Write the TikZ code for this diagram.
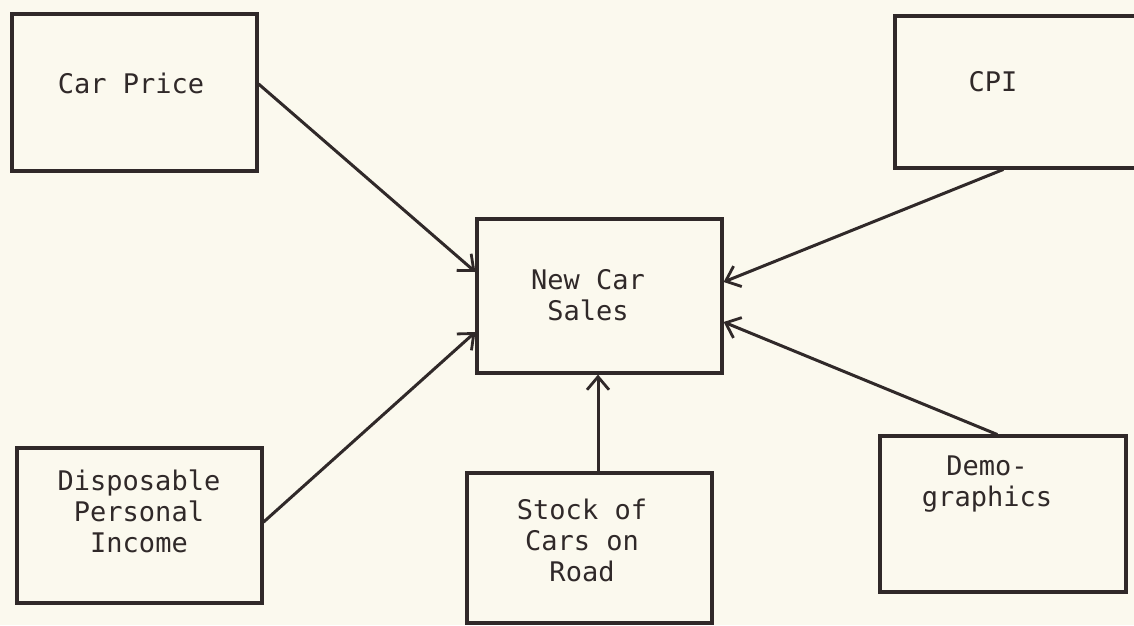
\documentclass[tikz,border=0pt]{standalone}
\usepackage{fontspec}
\setmonofont{DejaVu Sans Mono}
\usetikzlibrary{arrows.meta}
\definecolor{paper}{RGB}{251,249,238}
\definecolor{ink}{RGB}{48,41,41}

\begin{document}
\begin{tikzpicture}[x=1pt,y=-1pt,
  box/.style={draw=ink, line width=3.2pt, rectangle, inner sep=0pt},
  lbl/.style={font=\ttfamily\fontsize{27}{31}\selectfont, text=ink, align=center},
  conn/.style={draw=ink, line width=3pt, line cap=round,
    -{Straight Barb[length=13pt,width=22pt,line width=2.8pt]}}
]
% page
\fill[paper] (0,0) rectangle (1134,625);
\useasboundingbox (0,0) rectangle (1134,625);

% boxes
\node[box, minimum width=245pt, minimum height=157pt] (cp)  at (134.5,92.5) {};
\node[box, minimum width=255pt, minimum height=152pt] (cpi) at (1022.5,92) {};
\node[box, minimum width=245pt, minimum height=154pt] (ncs) at (599.5,296) {};
\node[box, minimum width=245pt, minimum height=155pt] (dpi) at (139.5,525.5) {};
\node[box, minimum width=245pt, minimum height=150pt] (stk) at (589.5,548) {};
\node[box, minimum width=246pt, minimum height=156pt] (dem) at (1003,514) {};

% labels
\node[lbl] (tcp)  at (131,83)  {Car Price};
\node[lbl] (tcpi) at (993,82)  {CPI};
\node[lbl] (tncs) at (588,295) {New Car\\Sales};
\node[lbl] (tdpi) at (139,511) {Disposable\\Personal\\Income};
\node[lbl] (tstk) at (582,540) {Stock of\\Cars on\\Road};
\node[lbl] (tdem) at (987,484) {Demo-\\graphics};

% influences on new car sales
\draw[conn] (cp.east |- 0,84)   -- (ncs.west |- 0,272);
\draw[conn] (dpi.east |- 0,522) -- (ncs.west |- 0,332);
\draw[conn] (stk.north -| 598,0) -- (ncs.south -| 598,0);
\draw[conn] (cpi.south -| 1003,0) -- (ncs.east |- 0,282);
\draw[conn] (dem.north -| 997,0) -- (ncs.east |- 0,322);
\end{tikzpicture}
\end{document}
